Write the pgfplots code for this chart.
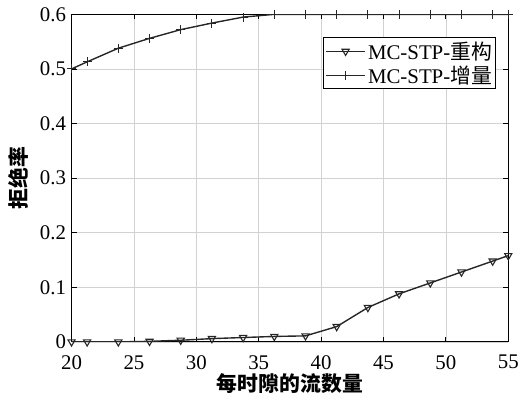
\documentclass[border=0pt]{standalone}
\usepackage{fontspec}
\setmainfont{Liberation Serif}
\newfontfamily\cjk{Noto Sans CJK SC}
\usepackage{pgfplots}
\pgfplotsset{compat=1.18}
\begin{document}
\begin{tikzpicture}
\begin{axis}[
  width=440pt, height=330pt, scale only axis,
  xmin=20, xmax=55, ymin=0, ymax=0.6,
  xtick={20,25,...,55},
  ytick={0,0.1,...,0.6},
  yticklabels={0,0.1,0.2,0.3,0.4,0.5,0.6},
  /pgf/number format/assume math mode=true,
  tick label style={font=\fontsize{21}{23}\selectfont},
  xticklabel shift=10pt,
  yticklabel shift=2pt,
  grid=major,
  major grid style={gray!35, line width=0.6pt},
  axis line style={line width=1.1pt},
  tick style={black, line width=0.8pt},
  major tick length=5pt,
  tick align=inside,
  xtick pos=both, ytick pos=both,
  xlabel={\cjk\bfseries 每时隙的流数量},
  ylabel={\cjk\bfseries 拒绝率},
  label style={font=\fontsize{21}{23}\selectfont},
  xlabel style={yshift=3pt},
  ylabel style={yshift=5pt},
  legend style={at={(0.973,0.93)}, anchor=north east, draw=black, line width=1.1pt,
    font=\fontsize{21}{24}\selectfont, inner sep=2pt, row sep=1pt},
  legend cell align=left,
  legend image code/.code={%
    \draw[mark repeat=2,mark phase=2,#1] plot coordinates {(0cm,0cm) (0.7cm,0cm) (1.4cm,0cm)};},
]
\addplot[black!85, line width=1.4pt, mark=triangle, mark size=4.2pt,
  mark options={rotate=180, fill=white, line width=1.1pt, solid}]
  coordinates {
  (20,0) (21.25,0) (23.75,0) (26.25,0.001) (28.75,0.003) (31.25,0.006)
  (33.75,0.008) (36.25,0.010) (38.75,0.011) (41.25,0.028) (43.75,0.063)
  (46.25,0.088) (48.75,0.108) (51.25,0.128) (53.75,0.148) (55,0.158)};
\addlegendentry{MC-STP-{\cjk 重构}}
\addplot[black!85, line width=1.4pt, mark=+, mark size=4.5pt,
  mark options={line width=1.1pt, solid}]
  coordinates {
  (20,0.5) (21.25,0.513) (23.75,0.538) (26.25,0.556) (28.75,0.572) (31.25,0.584)
  (33.75,0.595) (36.25,0.6) (38.75,0.6) (41.25,0.6) (43.75,0.6)
  (46.25,0.6) (48.75,0.6) (51.25,0.6) (53.75,0.6) (55,0.6)};
\addlegendentry{MC-STP-{\cjk 增量}}
\end{axis}
\path (current bounding box.south west) ++(-5pt,-4pt);
\path (current bounding box.north east) ++(0pt,4pt);
\end{tikzpicture}
\end{document}
